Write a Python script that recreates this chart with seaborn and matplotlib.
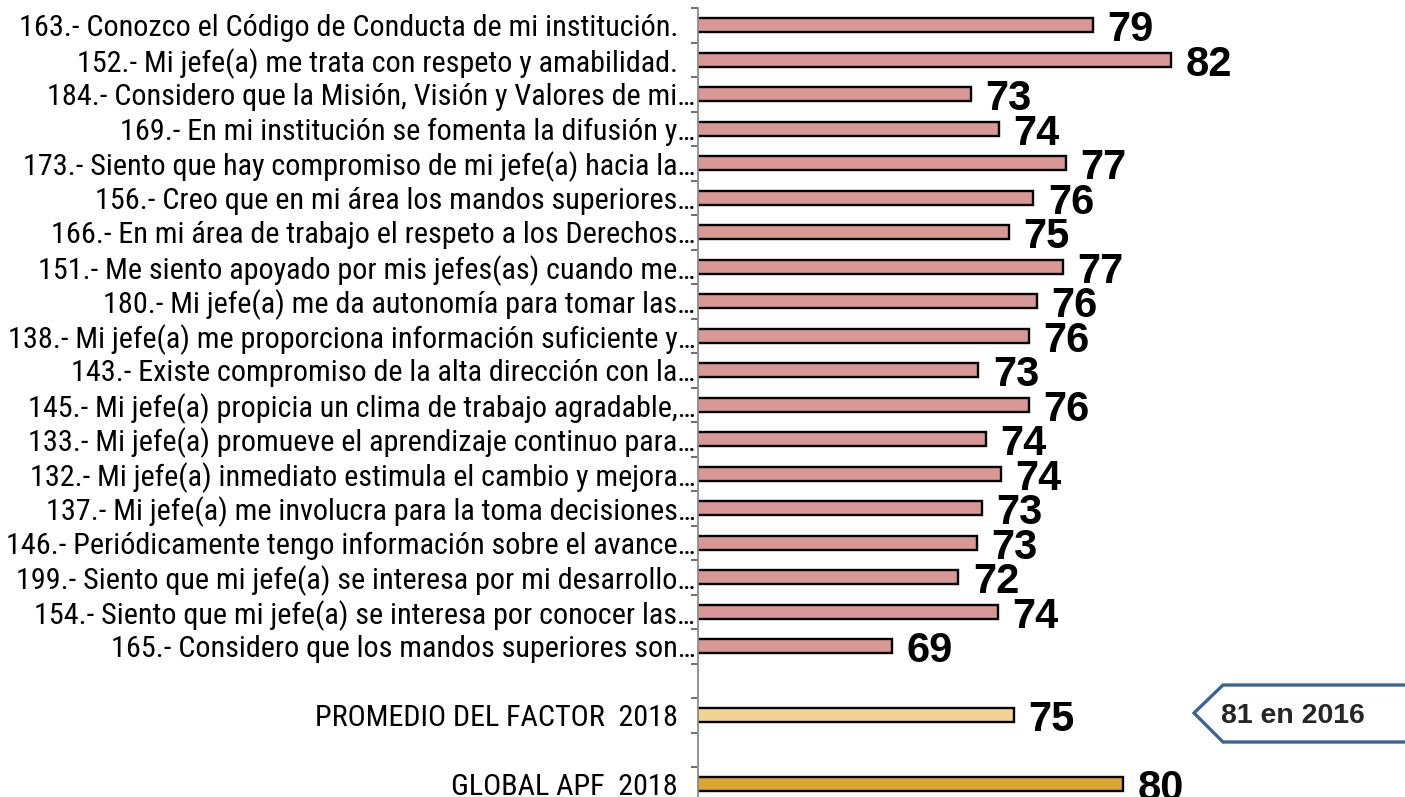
import numpy as np
import pandas as pd
import matplotlib
matplotlib.use("Agg")
import matplotlib.pyplot as plt
from matplotlib.patches import Polygon
from matplotlib.ticker import FixedLocator
from matplotlib.transforms import ScaledTranslation
from matplotlib import font_manager as fm
import seaborn as sns

# ---------------- data ----------------
items = [
    "163.- Conozco el Código de Conducta de mi institución.",
    "152.- Mi jefe(a) me trata con respeto y amabilidad.",
    "184.- Considero que la Misión, Visión y Valores de mi…",
    "169.- En mi institución se fomenta la difusión y…",
    "173.- Siento que hay compromiso de mi jefe(a) hacia la…",
    "156.- Creo que en mi área los mandos superiores…",
    "166.- En mi área de trabajo el respeto a los Derechos…",
    "151.- Me siento apoyado por mis jefes(as) cuando me…",
    "180.- Mi jefe(a) me da autonomía para tomar las…",
    "138.- Mi jefe(a) me proporciona información suficiente y…",
    "143.- Existe compromiso de la alta dirección con la…",
    "145.- Mi jefe(a) propicia un clima de trabajo agradable,…",
    "133.- Mi jefe(a) promueve el aprendizaje continuo para…",
    "132.- Mi jefe(a) inmediato estimula el cambio y mejora…",
    "137.- Mi jefe(a) me involucra para la toma decisiones…",
    "146.- Periódicamente tengo información sobre el avance…",
    "199.- Siento que mi jefe(a) se interesa por mi desarrollo…",
    "154.- Siento que mi jefe(a) se interesa por conocer las…",
    "165.- Considero que los mandos superiores son…",
]
item_values = [78.53, 82.21, 72.82, 74.13, 77.26, 75.74, 74.60, 77.12, 75.90,
               75.55, 73.16, 75.52, 73.52, 74.23, 73.32, 73.08, 72.22, 74.07, 69.11]

summary_labels = ["PROMEDIO DEL FACTOR  2018", "GLOBAL APF  2018"]
summary_values = [74.84, 79.97]

callout_text = "81 en 2016"

# colours
c_item = "#D99795"
c_prom = "#F4D292"
c_glob = "#DAA535"
c_callout = "#3E6495"

# ---------------- fonts ----------------
available = {f.name for f in fm.fontManager.ttflist}
narrow_cands = ["Liberation Sans Narrow", "Arial Narrow", "Nimbus Sans Narrow",
                "Roboto Condensed", "Archivo Narrow", "PT Sans Narrow"]
narrow = next((c for c in narrow_cands if c in available), None)
if narrow is None:
    narrow_props = dict(family=["DejaVu Sans"], stretch="condensed")
else:
    narrow_props = dict(family=[narrow, "DejaVu Sans"])
bold_family = ["Liberation Sans", "Arimo", "DejaVu Sans"]

# ---------------- build frame ----------------
labels = items + summary_labels
values = item_values + summary_values
df = pd.DataFrame({"label": labels, "value": values})
order = items + [" ", summary_labels[0], "  ", summary_labels[1]]
palette = {lab: c_item for lab in items}
palette[summary_labels[0]] = c_prom
palette[summary_labels[1]] = c_glob

# ---------------- figure ----------------
sns.set_style("white")
W, H = 1405, 797
fig = plt.figure(figsize=(W / 100, H / 100), dpi=100)

# fit tick-label size so the first label spans ~673 px as in the reference
renderer = fig.canvas.get_renderer()
probe = fig.text(0, 0, items[0], fontsize=24, **narrow_props)
w = probe.get_window_extent(renderer).width
label_size = 24 * 660 / w
probe.remove()

ax_left = 698 / W
ax_top = 1 - 8 / H
slot = 34.5
ax_h = 23 * slot / H
ax = fig.add_axes([ax_left, ax_top - ax_h, 1 - ax_left, ax_h])

sns.barplot(data=df, x="value", y="label", hue="label", palette=palette,
            order=order, hue_order=labels, orient="h", width=0.42,
            saturation=1, edgecolor="black", linewidth=1.7, legend=False,
            ax=ax, errorbar=None)

ax.set_xlim(60, 93.2)
ax.set_ylim(len(order) - 0.5, -0.5)
ax.set_xlabel("")
ax.set_ylabel("")
for s in ["top", "right", "bottom"]:
    ax.spines[s].set_visible(False)
ax.spines["left"].set_color("#8C8C8C")
ax.spines["left"].set_linewidth(1.3)
ax.xaxis.set_visible(False)

ax.yaxis.set_minor_locator(FixedLocator(np.arange(-0.5, len(order), 1.0)))
ax.tick_params(axis="y", which="major", left=True, length=0, pad=2,
               labelsize=label_size, labelcolor="black")
ax.tick_params(axis="y", which="minor", left=True, length=5, width=1.2,
               color="#555555", direction="out")

# labels that are not truncated end a little before the axis, as in the reference
shift = ScaledTranslation(-17 / 100, 0, fig.dpi_scale_trans)
for tick in ax.yaxis.get_major_ticks():
    t = tick.label1
    if "family" in narrow_props:
        t.set_family(narrow_props["family"])
    if "stretch" in narrow_props:
        t.set_stretch(narrow_props["stretch"])
    txt = t.get_text()
    if txt.strip() and not txt.endswith("…"):
        t.set_transform(t.get_transform() + shift)

# value labels
pos = {lab: i for i, lab in enumerate(order)}
for lab, v in zip(labels, values):
    ax.annotate(f"{v:.0f}", xy=(v, pos[lab]), xytext=(10.5, -11.5),
                textcoords="offset points", ha="left", va="baseline",
                fontsize=30, fontweight="bold", family=bold_family,
                color="black", annotation_clip=False)

# callout (arrow-shaped box pointing left) in figure-pixel space
def fx(px):
    return px / W

def fy(py):
    return 1 - py / H

verts = [(fx(1194), fy(713)), (fx(1223), fy(685)), (fx(1412), fy(685)),
         (fx(1412), fy(742)), (fx(1223), fy(742))]
poly = Polygon(verts, closed=True, facecolor="white", edgecolor=c_callout,
               linewidth=2.4, transform=fig.transFigure, clip_on=False,
               joinstyle="miter")
fig.add_artist(poly)
fig.text(fx(1221), fy(713), callout_text, ha="left", va="center_baseline",
         fontsize=20.5, fontweight="bold", family=bold_family)

fig.savefig("out.png", dpi=100)
